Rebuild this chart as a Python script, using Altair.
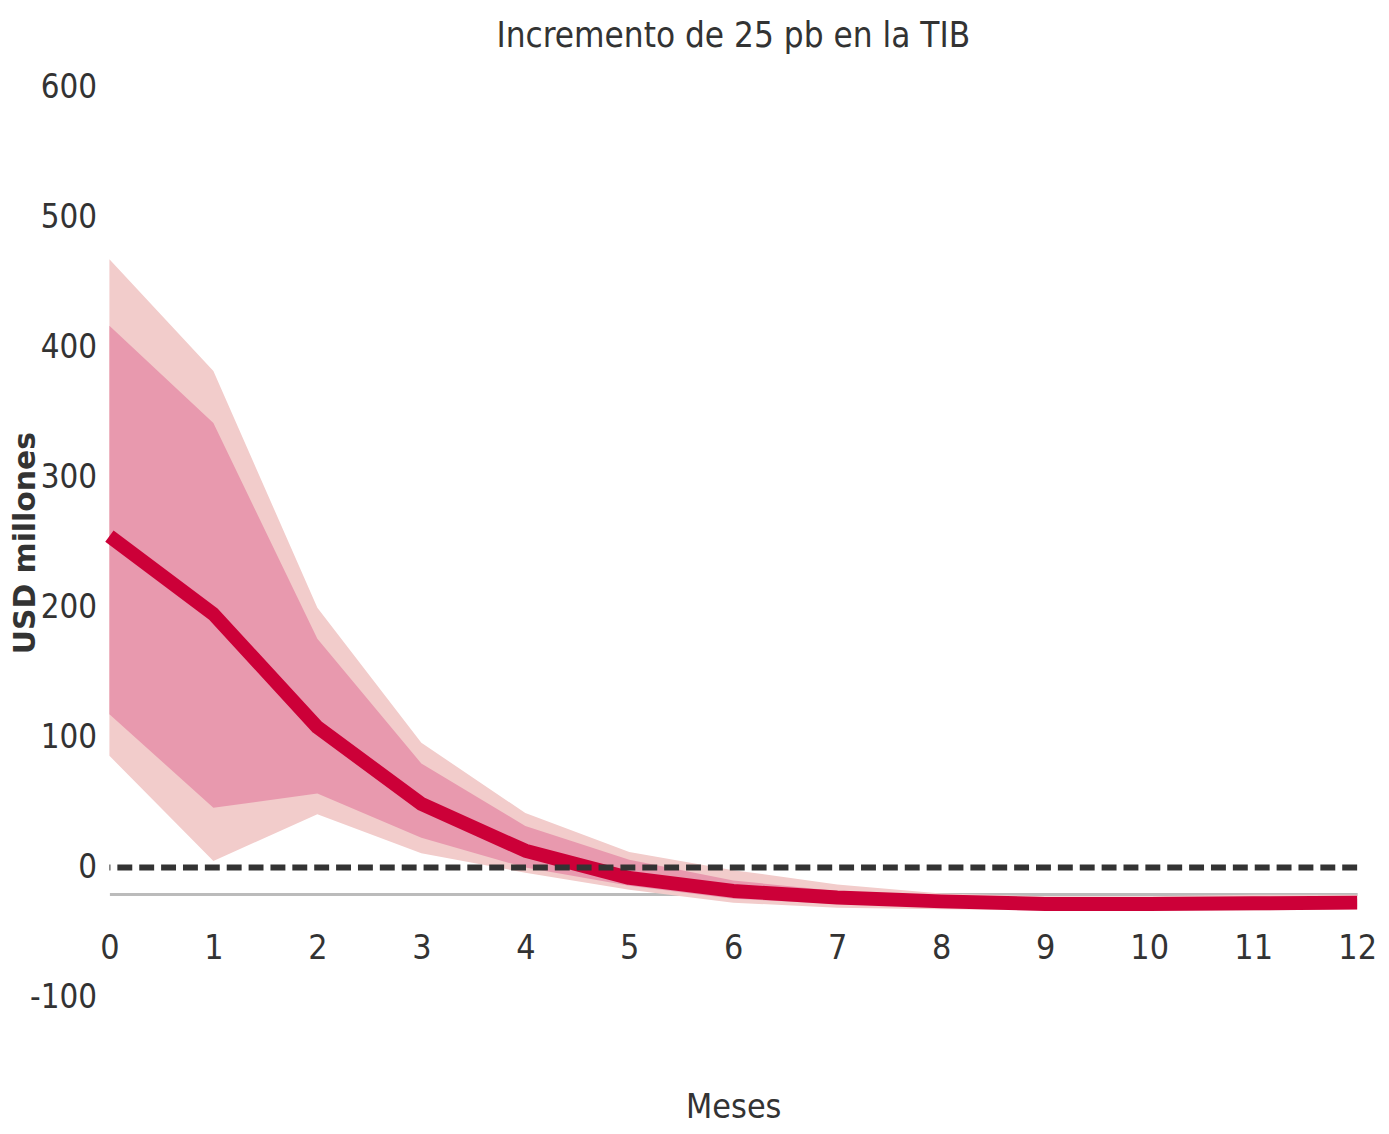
import altair as alt
import pandas as pd

meses = [0, 1, 2, 3, 4, 5, 6, 7, 8, 9, 10, 11, 12]
mediana = [255, 195, 108, 49, 13, -8, -18, -23, -26, -28, -28, -27.5, -27]
interno_sup = [417, 342, 176, 80, 32, 6, -10, -18, -23, -25, -25, -24, -24]
interno_inf = [118, 46, 57, 23, 0, -14, -24, -28, -30, -31, -31, -31, -30]
externo_sup = [468, 382, 200, 96, 42, 12, -2, -13, -20, -22, -22, -21, -21]
externo_inf = [86, 5, 41, 11, -4, -17, -27, -31, -32, -33, -33, -33, -32]
y_ticks = [-100, 0, 100, 200, 300, 400, 500, 600]

df = pd.DataFrame({
    "mes": meses,
    "med": mediana,
    "isup": interno_sup,
    "iinf": interno_inf,
    "esup": externo_sup,
    "einf": externo_inf,
})

FONT = "'Liberation Sans Narrow', 'DejaVu Sans Condensed', 'Roboto Condensed', 'Liberation Sans', sans-serif"

x_enc = alt.X(
    "mes:Q",
    scale=alt.Scale(domain=[0, 12], nice=False, zero=False),
    axis=alt.Axis(
        title="Meses",
        values=meses,
        format="d",
        offset=-104,
        ticks=False,
        domainColor="#bbbbbb",
        domainWidth=3,
        grid=False,
        labelFont=FONT,
        labelFontSize=34,
        labelColor="#333333",
        labelPadding=38,
        labelFlush=False,
        titleFont=FONT,
        titleFontSize=34,
        titleFontWeight="normal",
        titleColor="#333333",
        titlePadding=126,
        zindex=0,
    ),
)

y_scale = alt.Scale(domain=[-100, 600], nice=False, zero=False)
y_axis = alt.Axis(
    title="USD millones",
    values=y_ticks,
    labelExpr="datum.value < 0 ? '-' + abs(datum.value) : '' + datum.value",
    ticks=False,
    domain=False,
    grid=False,
    labelFont=FONT,
    labelFontSize=33,
    labelColor="#333333",
    labelPadding=13,
    titleFont="'DejaVu Sans', 'Liberation Sans', sans-serif",
    titleFontSize=30,
    titleFontWeight="bold",
    titleColor="#333333",
    titleX=-84,
    titleBaseline="middle",
)

base = alt.Chart(df)

outer = base.mark_area(color="#f2cccb", opacity=1).encode(
    x=x_enc,
    y=alt.Y("einf:Q", scale=y_scale, axis=y_axis),
    y2="esup:Q",
)
inner = base.mark_area(color="#e899ae", opacity=1).encode(
    x="mes:Q",
    y="iinf:Q",
    y2="isup:Q",
)
line = base.mark_line(color="#cc0038", strokeWidth=14, strokeJoin="round", strokeCap="butt").encode(
    x="mes:Q",
    y="med:Q",
)
zero = alt.Chart(pd.DataFrame({"v": [0]})).mark_rule(
    color="#333333", strokeWidth=6, strokeDash=[15, 7]
).encode(y="v:Q")

chart = (
    alt.layer(outer, inner, line, zero)
    .properties(
        width=1255,
        height=915,
        autosize=alt.AutoSizeParams(type="none"),
        padding={"left": 102, "top": 77, "right": 24, "bottom": 130},
        title=alt.TitleParams(
            "Incremento de 25 pb en la TIB",
            font=FONT,
            fontSize=35,
            fontWeight="normal",
            color="#333333",
            anchor="middle",
            offset=18,
        ),
    )
    .configure_view(stroke=None)
)

chart.save("out.html", embed_options={"renderer": "svg", "actions": False})
